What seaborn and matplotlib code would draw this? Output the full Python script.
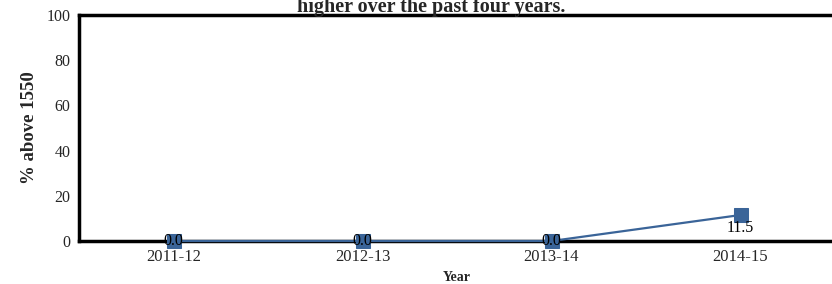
import pandas as pd
import matplotlib.pyplot as plt
import seaborn as sns

# values
years = ["2011-12", "2012-13", "2013-14", "2014-15"]
pct_above = [0.0, 0.0, 0.0, 11.5]
yticks = [0, 20, 40, 60, 80, 100]

sns.set_style("white")
plt.rcParams['font.family'] = ['Liberation Serif', 'DejaVu Serif']

df = pd.DataFrame({"Year": years, "pct": pct_above})
df["pos"] = range(len(df))

fig = plt.figure(figsize=(8.32, 2.84), dpi=100)
ax = fig.add_axes([79 / 832, 43 / 284, (835 - 79) / 832, 226 / 284])

col = "#3a6498"
sns.lineplot(data=df, x="pos", y="pct", ax=ax, color=col, linewidth=1.6,
             marker="s", markersize=9.5, markeredgecolor=col, markerfacecolor=col,
             clip_on=False, zorder=5)

# data labels
for i, v in enumerate(pct_above):
    if v == 0:
        ax.text(i, v, f"{v:.1f}", ha="center", va="center", fontsize=11.5,
                color="black", zorder=6, clip_on=False)
    else:
        ax.text(i, v - 2.2, f"{v:.1f}", ha="center", va="top", fontsize=11.5,
                color="black", zorder=6)

ax.set_xlim(-0.5, 3.5)
ax.set_ylim(0, 100)
ax.set_xticks(range(len(years)))
ax.set_xticklabels(years, fontsize=12)
ax.set_yticks(yticks)
ax.set_yticklabels([str(t) for t in yticks], fontsize=11.5)
ax.tick_params(axis="y", length=0, pad=6)
ax.tick_params(axis="x", length=0, pad=6)

for s in ["left", "bottom", "top"]:
    ax.spines[s].set_linewidth(2.5)
    ax.spines[s].set_color("black")
    ax.spines[s].set_zorder(2)
ax.spines["right"].set_visible(False)

ax.set_xlabel("Year", fontsize=10, fontweight="bold", labelpad=4)
ax.set_ylabel("% above 1550", fontsize=13.5, fontweight="bold", labelpad=6)

fig.text(431 / 832, (284 - 12) / 284, "higher over the past four years.", ha="center",
         va="baseline", fontsize=14.5, fontweight="bold")

fig.savefig("out.png", dpi=100)
